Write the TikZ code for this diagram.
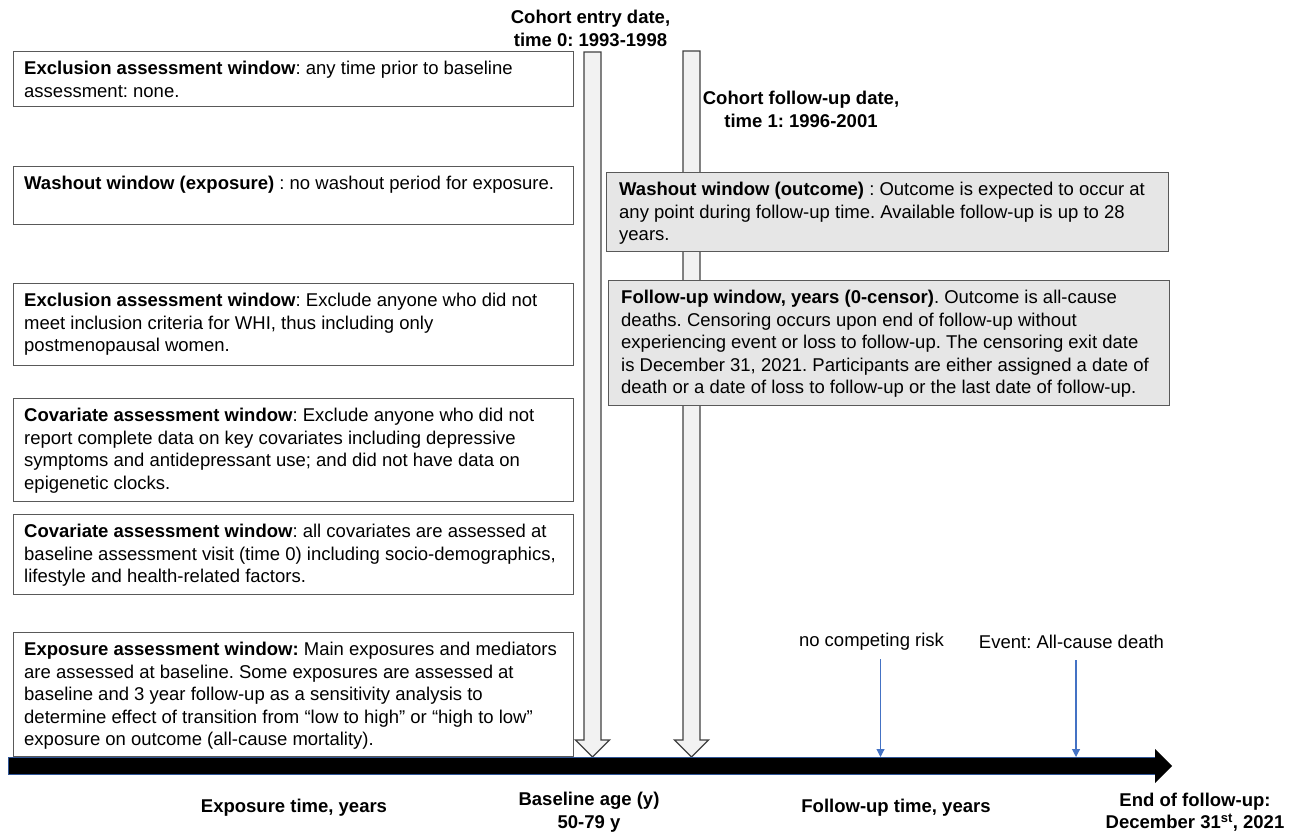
\documentclass[tikz,border=0pt]{standalone}
\usepackage{fontspec}
\setmainfont{Liberation Sans}
\usetikzlibrary{calc,arrows.meta}
\definecolor{bordergray}{HTML}{595959}
\definecolor{boxgray}{HTML}{E6E6E6}
\definecolor{arrowfill}{HTML}{F2F2F2}
\definecolor{arrowdraw}{HTML}{404040}
\definecolor{eventblue}{HTML}{4472C4}
\definecolor{baredge}{HTML}{2F5597}
\frenchspacing
\begin{document}
\begin{tikzpicture}[x=1pt,y=-1pt,
  every node/.style={font=\fontsize{18.5}{22.5}\selectfont},
  lbox/.style={draw=bordergray,line width=1.1pt,fill=white,anchor=north west,minimum width=560pt,inner sep=0pt},
  rbox/.style={lbox,fill=boxgray,minimum width=562pt},
  txt/.style={anchor=north west,inner sep=0pt,align=left},
  blockarrow/.style={draw=arrowdraw,fill=arrowfill,line width=1.3pt,line join=miter},
  evarrow/.style={draw=eventblue,line width=1.1pt,-{Triangle[length=8pt,width=8pt]}},
  lbl/.style={inner sep=0pt},
  blbl/.style={inner sep=0pt,font=\fontsize{18.5}{22.5}\selectfont\bfseries,align=center}]
\useasboundingbox (0,0) rectangle (1292,834);

% block arrows (cohort entry / follow-up)
\coordinate (a1top) at (592.5,52);
\coordinate (a1tip) at (592.5,757);
\coordinate (a2top) at (691.5,51);
\coordinate (a2tip) at (691.5,757);
\draw[blockarrow] ($(a1top)+(-8.5,0)$) -- ($(a1top)+(8.5,0)$) -- ($(a1tip)+(8.5,-17)$) -- ($(a1tip)+(17,-17)$) -- (a1tip) -- ($(a1tip)+(-17,-17)$) -- ($(a1tip)+(-8.5,-17)$) -- cycle;
\draw[blockarrow] ($(a2top)+(-8.5,0)$) -- ($(a2top)+(8.5,0)$) -- ($(a2tip)+(8.5,-17)$) -- ($(a2tip)+(17,-17)$) -- (a2tip) -- ($(a2tip)+(-17,-17)$) -- ($(a2tip)+(-8.5,-17)$) -- cycle;

% titles
\node[blbl] (entry) at (590.5,28.5) {Cohort entry date,\\time 0: 1993-1998};
\node[blbl] (fudate) at (801,109.5) {Cohort follow-up date,\\time 1: 1996-2001};

% left boxes
\node[lbox,minimum height=55pt] (b1) at (13,51) {};
\node[txt] (t1) at ($(b1.north west)+(11,8)$) {\strut\textbf{Exclusion assessment window}: any time prior to baseline\\assessment: none.};

\node[lbox,minimum height=58pt] (b2) at (13,166) {};
\node[txt] (t2) at ($(b2.north west)+(11,8)$) {\strut\textbf{Washout window (exposure)} : no washout period for exposure.};

\node[lbox,minimum height=82pt] (b3) at (13,283) {};
\node[txt] (t3) at ($(b3.north west)+(11,8)$) {\strut\textbf{Exclusion assessment window}: Exclude anyone who did not\\meet inclusion criteria for WHI, thus including only\\postmenopausal women.};

\node[lbox,minimum height=103pt] (b4) at (13,398) {};
\node[txt] (t4) at ($(b4.north west)+(11,8)$) {\strut\textbf{Covariate assessment window}: Exclude anyone who did not\\report complete data on key covariates including depressive\\symptoms and antidepressant use; and did not have data on\\epigenetic clocks.};

\node[lbox,minimum height=80pt] (b5) at (13,514) {};
\node[txt] (t5) at ($(b5.north west)+(11,8)$) {\strut\textbf{Covariate assessment window}: all covariates are assessed at\\baseline assessment visit (time 0) including socio-demographics,\\lifestyle and health-related factors.};

\node[lbox,minimum height=124pt] (b6) at (13,632) {};
\node[txt] (t6) at ($(b6.north west)+(11,8)$) {\strut\textbf{Exposure assessment window:} Main exposures and mediators\\are assessed at baseline. Some exposures are assessed at\\baseline and 3 year follow-up as a sensitivity analysis to\\determine effect of transition from “low to high” or “high to low”\\exposure on outcome (all-cause mortality).};

% right boxes
\node[rbox,minimum height=79pt] (b7) at (606,172) {};
\node[txt] (t7) at ($(b7.north west)+(13,8)$) {\strut\textbf{Washout window (outcome)} : Outcome is expected to occur at\\any point during follow-up time. Available follow-up is up to 28\\years.};

\node[rbox,minimum height=125pt,minimum width=561pt] (b8) at (608,280) {};
\node[txt] (t8) at ($(b8.north west)+(13,8)$) {\strut\textbf{Follow-up window, years (0-censor)}. Outcome is all-cause\\deaths. Censoring occurs upon end of follow-up without\\experiencing event or loss to follow-up. The censoring exit date\\is December 31, 2021. Participants are either assigned a date of\\death or a date of loss to follow-up or the last date of follow-up.};

% timeline
\coordinate (tlstart) at (8,766);
\coordinate (tlend) at (1172,766);
\fill[black] ($(tlstart)+(0,-8.5)$) -- ($(tlend)+(-17,-8.5)$) -- ($(tlend)+(-17,-17)$) -- (tlend) -- ($(tlend)+(-17,17)$) -- ($(tlend)+(-17,8.5)$) -- ($(tlstart)+(0,8.5)$) -- cycle;
\draw[baredge,line width=1pt] ($(tlend)+(-17,-8.5)$) -- ($(tlstart)+(0,-8.5)$) -- ($(tlstart)+(0,8.5)$) -- ($(tlend)+(-17,8.5)$);

% events
\node[lbl] (ncr) at (871.5,642) {no competing risk};
\node[lbl] (ev) at (1071.5,642) {Event: All-cause death};
\coordinate (ncrtop) at (880.5,659);
\coordinate (ncrtip) at (880.5,757);
\coordinate (evtop) at (1076,660);
\coordinate (evtip) at (1076,757);
\draw[evarrow] (ncrtop) -- (ncrtip);
\draw[evarrow] (evtop) -- (evtip);

% bottom labels
\node[blbl] (expt) at (294,808) {Exposure time, years};
\node[blbl] (base) at (589,812) {Baseline age (y)\\50-79 y};
\node[blbl] (fut) at (896,808) {Follow-up time, years};
\node[blbl] (endf) at (1195,812) {End of follow-up:\\December 31\textsuperscript{st}, 2021};
\end{tikzpicture}
\end{document}
